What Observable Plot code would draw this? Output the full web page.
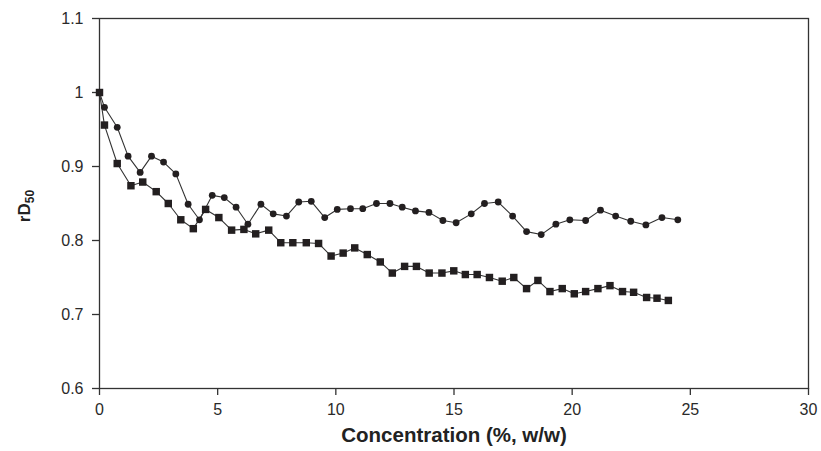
<!DOCTYPE html>
<html>
<head>
<meta charset="utf-8">
<script src="https://cdn.jsdelivr.net/npm/d3@7"></script>
<script src="https://cdn.jsdelivr.net/npm/@observablehq/plot@0.6"></script>
<style>
  html, body { margin: 0; padding: 0; background: #fff; }
  #chart svg { display: block; }
</style>
</head>
<body>
<div id="chart"></div>
<script>
// Series 1: circles
const circleX = [0, 0.21, 0.75, 1.21, 1.72, 2.2, 2.71, 3.23, 3.75, 4.23, 4.77, 5.28, 5.78, 6.28, 6.83, 7.35, 7.91, 8.43, 8.96, 9.53, 10.06, 10.62, 11.14, 11.72, 12.29, 12.81, 13.37, 13.94, 14.53, 15.09, 15.73, 16.29, 16.87, 17.48, 18.07, 18.69, 19.31, 19.9, 20.57, 21.2, 21.84, 22.48, 23.12, 23.8, 24.47];
const circleY = [1.0, 0.98, 0.953, 0.914, 0.892, 0.914, 0.906, 0.89, 0.849, 0.828, 0.861, 0.858, 0.845, 0.822, 0.849, 0.836, 0.833, 0.852, 0.853, 0.831, 0.842, 0.843, 0.843, 0.85, 0.85, 0.845, 0.84, 0.838, 0.827, 0.824, 0.836, 0.85, 0.852, 0.833, 0.812, 0.808, 0.822, 0.828, 0.827, 0.841, 0.833, 0.826, 0.821, 0.831, 0.828];

// Series 2: squares
const squareX = [0, 0.21, 0.75, 1.33, 1.83, 2.4, 2.91, 3.44, 3.97, 4.49, 5.05, 5.59, 6.11, 6.61, 7.16, 7.67, 8.18, 8.75, 9.27, 9.8, 10.31, 10.8, 11.33, 11.88, 12.39, 12.91, 13.41, 13.95, 14.49, 14.99, 15.48, 15.98, 16.5, 17.04, 17.53, 18.07, 18.55, 19.06, 19.58, 20.09, 20.57, 21.09, 21.6, 22.13, 22.6, 23.15, 23.59, 24.07];
const squareY = [1.0, 0.956, 0.904, 0.874, 0.879, 0.866, 0.85, 0.828, 0.816, 0.842, 0.831, 0.814, 0.815, 0.809, 0.814, 0.797, 0.797, 0.797, 0.796, 0.779, 0.783, 0.79, 0.781, 0.771, 0.756, 0.765, 0.765, 0.756, 0.756, 0.759, 0.754, 0.754, 0.75, 0.745, 0.75, 0.735, 0.746, 0.731, 0.735, 0.728, 0.731, 0.735, 0.739, 0.731, 0.73, 0.723, 0.722, 0.719];

const xTicks = [0, 5, 10, 15, 20, 25, 30];
const yTicks = [0.6, 0.7, 0.8, 0.9, 1, 1.1];
const xLabel = "Concentration (%, w/w)";

const circles = circleX.map((x, i) => ({x, y: circleY[i]}));
const squares = squareX.map((x, i) => ({x, y: squareY[i]}));

const ink = "#231f20";

const chart = Plot.plot({
  width: 821,
  height: 451,
  marginLeft: 99,
  marginRight: 13,
  marginTop: 18,
  marginBottom: 63,
  style: {fontFamily: "'Liberation Sans', Arial, sans-serif", background: "#fff", color: "#2a2a2a"},
  x: {domain: [0, 30], ticks: xTicks, label: null},
  y: {domain: [0.6, 1.1], ticks: yTicks, label: null},
  marks: [
    Plot.frame({stroke: "#333", strokeWidth: 1.3}),
    Plot.axisX({ticks: xTicks, tickFormat: d => String(d), tickSize: 7, tickPadding: 8, fontSize: 16, label: null, stroke: "#333", strokeWidth: 1.3}),
    Plot.axisY({ticks: yTicks, tickFormat: d => String(d), tickSize: 7, tickPadding: 9, fontSize: 16, label: null, stroke: "#333", strokeWidth: 1.3}),
    Plot.line(circles, {x: "x", y: "y", stroke: "#333", strokeWidth: 1.1}),
    Plot.line(squares, {x: "x", y: "y", stroke: "#333", strokeWidth: 1.1}),
    Plot.dot(circles, {x: "x", y: "y", r: 3.4, fill: ink, stroke: "none"}),
    Plot.dot(squares, {x: "x", y: "y", r: 4.2, symbol: "square", fill: ink, stroke: "none"}),
    Plot.text([xLabel], {frameAnchor: "bottom", dy: 53, fontSize: 20.5, fontWeight: "bold", fill: "#222", text: d => d})
  ]
});

document.getElementById("chart").appendChild(chart);

// y-axis title with subscript
const svg = d3.select(chart);
const yt = svg.append("text")
  .attr("transform", "translate(30,206) rotate(-90)")
  .attr("text-anchor", "middle")
  .attr("font-family", "'Liberation Sans', Arial, sans-serif")
  .attr("font-weight", "bold")
  .attr("font-size", 17)
  .attr("fill", "#222");
yt.append("tspan").text("rD");
yt.append("tspan").attr("font-size", 12).attr("dy", 4).text("50");
</script>
</body>
</html>
